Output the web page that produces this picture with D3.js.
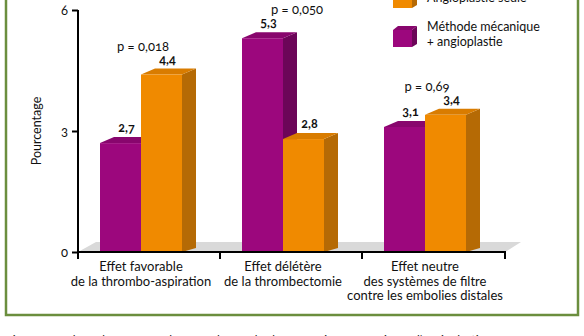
<!DOCTYPE html>
<html>
<head>
<meta charset="utf-8">
<script src="https://cdn.jsdelivr.net/npm/d3@7"></script>
<style>
  html, body { margin: 0; padding: 0; background: #fff; }
  svg { display: block; font-family: Lato, "Open Sans", sans-serif; font-variant-numeric: oldstyle-nums; }
</style>
</head>
<body>
<svg id="chart" width="584" height="336"></svg>
<script>
// ----- données -----
var categories = [
  ['Effet favorable', 'de la thrombo-aspiration'],
  ['Effet délétère', 'de la thrombectomie'],
  ['Effet neutre', 'des systèmes de filtre', 'contre les embolies distales']
];
var series = ['Méthode mécanique + angioplastie', 'Angioplastie seule'];
var mecanique = [2.7, 5.3, 3.1];
var angioSeule = [4.4, 2.8, 3.4];
var pValues = ['p = 0,018', 'p = 0,050', 'p = 0,69'];
var yTicks = [0, 3, 6];

// couleurs : face avant / côté / dessus
var COL = {
  'Méthode mécanique + angioplastie': { front: '#9c077d', side: '#6c0558', top: '#88066d' },
  'Angioplastie seule': { front: '#f08a00', side: '#b56a05', top: '#d97c00' }
};
var DX = 14, DY = -6;     // profondeur 3D des barres
var pNudge = [0, 12, 0];  // petit décalage des p (comme l'original)

var svg = d3.select('#chart');
var catIdx = categories.map(function (c, i) { return i; });

var x = d3.scaleBand().domain(catIdx).range([78, 504]);
var xs = d3.scaleBand().domain(series).range([22, 104]);
var y = d3.scaleLinear().domain([0, 6]).range([252, 10]);
var fmt = function (v) { return String(v).replace('.', ','); };

// cadre vert
svg.append('rect').attr('x', 6).attr('y', -10).attr('width', 572).attr('height', 325)
  .attr('fill', 'none').attr('stroke', '#6b8e3e').attr('stroke-width', 2.5);

// sol gris
var y0 = y(0);
function pts(a) { return a.map(function (p) { return p.join(','); }).join(' '); }
svg.append('polygon')
  .attr('points', pts([[78, y0], [505, y0], [521, y0 - 10], [96, y0 - 10]]))
  .attr('fill', '#d9d9d9');

// barres
var rows = [];
catIdx.forEach(function (i) {
  rows.push({ cat: i, s: series[0], v: mecanique[i] });
  rows.push({ cat: i, s: series[1], v: angioSeule[i] });
});

var bars = svg.append('g').selectAll('g').data(rows).enter().append('g');
bars.each(function (d) {
  var g = d3.select(this);
  var x0 = x(d.cat) + xs(d.s), w = xs.bandwidth(), yt = y(d.v);
  var c = COL[d.s];
  g.append('polygon').attr('fill', c.side)
    .attr('points', pts([[x0 + w, yt], [x0 + w + DX, yt + DY], [x0 + w + DX, y0 + DY + 2], [x0 + w, y0]]));
  g.append('polygon').attr('fill', c.top)
    .attr('points', pts([[x0, yt], [x0 + DX, yt + DY], [x0 + w + DX, yt + DY], [x0 + w, yt]]));
  g.append('rect').attr('fill', c.front).attr('x', x0).attr('y', yt).attr('width', w).attr('height', y0 - yt);
  g.append('text').attr('x', x0 + w / 2 + 6).attr('y', yt + DY - 5)
    .attr('text-anchor', 'middle').attr('font-size', 12.5).attr('font-weight', 'bold').attr('fill', '#111')
    .text(fmt(d.v));
});

// valeurs p
svg.append('g').selectAll('text').data(catIdx).enter().append('text')
  .attr('x', function (i) { return x(i) + xs(series[0]) + xs.bandwidth() + 2 + pNudge[i]; })
  .attr('y', function (i) { return y(Math.max(mecanique[i], angioSeule[i])) + DY - 18; })
  .attr('text-anchor', 'middle').attr('font-size', 13).attr('fill', '#111')
  .text(function (i) { return pValues[i]; });

// axe Y
var yAxis = svg.append('g').attr('transform', 'translate(78,0)')
  .call(d3.axisLeft(y).tickValues(yTicks).tickFormat(d3.format('d')).tickSize(6).tickPadding(4));
yAxis.select('.domain').attr('stroke', '#000').attr('stroke-width', 2).attr('d', 'M0,' + y(6) + 'V' + (y0 + 7));
yAxis.selectAll('.tick line').attr('stroke', '#000').attr('stroke-width', 2);
yAxis.selectAll('.tick text').attr('font-size', 13).attr('font-family', 'Lato, sans-serif').attr('fill', '#111');

svg.append('text').attr('transform', 'translate(41,' + y(3) + ') rotate(-90)')
  .attr('text-anchor', 'middle').attr('font-size', 12.5).attr('fill', '#111').text('Pourcentage');

// axe X
var xEnd = x.range()[1] + 1;
svg.append('line').attr('x1', 77).attr('x2', xEnd + 1).attr('y1', y0).attr('y2', y0)
  .attr('stroke', '#000').attr('stroke-width', 2);
var bounds = catIdx.map(function (i) { return x(i); }).slice(1).concat([xEnd]);
svg.append('g').selectAll('line').data(bounds).enter().append('line')
  .attr('x1', function (d) { return d; }).attr('x2', function (d) { return d; })
  .attr('y1', y0).attr('y2', y0 + 7).attr('stroke', '#000').attr('stroke-width', 2);

// libellés des catégories
var lab = svg.append('g').selectAll('text').data(catIdx).enter().append('text')
  .attr('text-anchor', 'middle').attr('font-size', 13).attr('fill', '#111');
lab.each(function (i) {
  var cx = x(i) + xs(series[0]) + xs.bandwidth();
  d3.select(this).selectAll('tspan').data(categories[i]).enter().append('tspan')
    .attr('x', cx).attr('y', function (t, k) { return 271 + k * 14.5; }).text(function (t) { return t; });
});

// légende
var legend = [
  { s: series[1], lines: ['Angioplastie seule'], top: -9, base: 2 },
  { s: series[0], lines: ['Méthode mécanique', '+ angioplastie'], top: 30, base: 31 }
];
legend.forEach(function (L) {
  var c = COL[L.s], lx = 393, lw = 19, lh = 17;
  var g = svg.append('g');
  g.append('polygon').attr('fill', c.side)
    .attr('points', pts([[lx + lw, L.top], [lx + lw + 5, L.top - 4], [lx + lw + 5, L.top + lh - 3], [lx + lw, L.top + lh]]));
  g.append('polygon').attr('fill', c.top)
    .attr('points', pts([[lx, L.top], [lx + 5, L.top - 4], [lx + lw + 5, L.top - 4], [lx + lw, L.top]]));
  g.append('rect').attr('x', lx).attr('y', L.top).attr('width', lw).attr('height', lh).attr('fill', c.front);
  g.append('text').attr('font-size', 12.5).attr('fill', '#111')
    .selectAll('tspan').data(L.lines).enter().append('tspan')
    .attr('x', 427).attr('y', function (t, k) { return L.base + k * 14.5; }).text(function (t) { return t; });
});

// légende de la figure (coupée en bas)
svg.append('text').attr('x', 6).attr('y', 344).attr('font-size', 12).attr('fill', '#222')
  .text('Fig. 5 – Résultats des méta-analyses sur les méthodes mécaniques associées à l’angioplastie.');
</script>
</body>
</html>
